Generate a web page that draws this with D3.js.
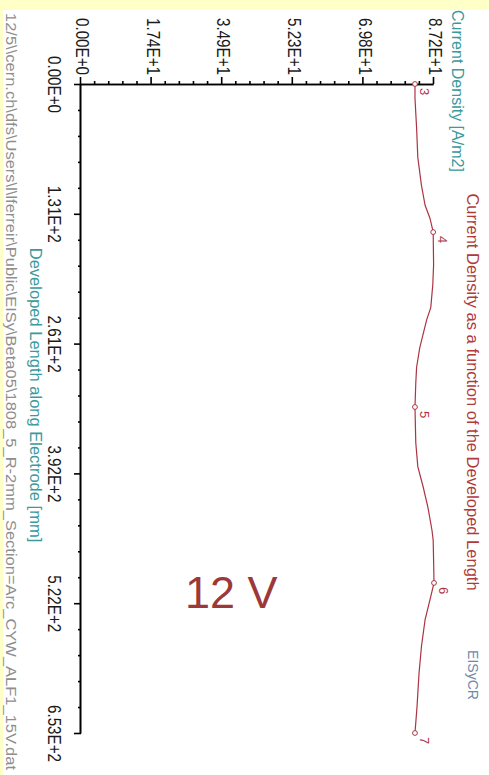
<!DOCTYPE html>
<html>
<head>
<meta charset="utf-8">
<script src="https://cdn.jsdelivr.net/npm/d3@7"></script>
<style>
  html, body { margin: 0; padding: 0; background: #ffffff; }
  svg { display: block; }
</style>
</head>
<body>
<svg id="chart" width="489" height="775"></svg>
<script>
// chart data (length in mm, density in A/m2)
var lengths   = [0, 14, 44, 74, 102, 122, 135, 149, 182, 202, 225, 237, 265, 285, 301, 325,
                 361, 385, 405, 426, 449, 459, 479, 502, 519, 539, 566, 593, 627, 653];
var densities = [82.5, 82.5, 82.9, 83.2, 84.1, 85.0, 86.2, 87.0, 87.1, 86.9, 86.4, 85.4, 83.7, 82.9, 82.7, 82.5,
                 82.7, 83.2, 84.5, 85.7, 86.7, 87.0, 87.1, 87.2, 86.2, 85.0, 84.1, 83.5, 83.0, 82.5];

// electrode nodes, index into the series above
var nodeIds = ["3", "4", "5", "6", "7"];
var nodeAt  = [0, 7, 15, 23, 29];

// axis ticks
var lengthTicks  = [0, 130.6, 261.2, 391.8, 522.4, 653];
var lengthLabels = ["0.00E+0", "1.31E+2", "2.61E+2", "3.92E+2", "5.22E+2", "6.53E+2"];
var densTicks    = [0, 17.44, 34.88, 52.32, 69.76, 87.2];
var densLabels   = ["0.00E+0", "1.74E+1", "3.49E+1", "5.23E+1", "6.98E+1", "8.72E+1"];

var title      = "Current Density as a function of the Developed Length";
var yTitle     = "Current Density [A/m2]";
var xTitle     = "Developed Length along Electrode [mm]";
var footer     = "12/5\\\\cern.ch\\dfs\\Users\\l\\lferreir\\Public\\EISy\\Beta05\\1808_5_R-2mm_Section=Arc_CYW_ALF1_15V.dat";
var voltage    = "12 V";

var red  = "#ab3444";
var teal = "#3a9a9c";
var font = "'Liberation Sans', Arial, sans-serif";

var svg = d3.select("#chart");

// yellowish frame of the original screenshot
svg.append("rect").attr("x", 0).attr("y", 0).attr("width", 489).attr("height", 10).attr("fill", "#ffffc8");
svg.append("rect").attr("x", 0).attr("y", 0).attr("width", 3).attr("height", 775).attr("fill", "#ffffc8");

// the plot is drawn in its own frame and turned a quarter clockwise
var w = 649, h = 353;
var g = svg.append("g").attr("transform", "translate(434,84) rotate(90)");

var x = d3.scaleLinear().domain([0, 653]).range([0, w]);
var y = d3.scaleLinear().domain([0, 87.2]).range([h, 0]);

function minor(ticks) {
	var out = [];
	for (var i = 0; i < ticks.length - 1; i++) {
		var step = (ticks[i + 1] - ticks[i]) / 5;
		for (var k = 1; k < 5; k++) out.push(ticks[i] + k * step);
	}
	return out;
}

// minor ticks
g.append("g").attr("transform", "translate(0," + h + ")")
	.call(d3.axisBottom(x).tickValues(minor(lengthTicks)).tickSize(3).tickSizeOuter(0).tickFormat(""));
g.append("g")
	.call(d3.axisLeft(y).tickValues(minor(densTicks)).tickSize(3).tickSizeOuter(0).tickFormat(""));

// major ticks with labels
var xAxis = g.append("g").attr("transform", "translate(0," + h + ")")
	.call(d3.axisBottom(x).tickValues(lengthTicks).tickSize(7).tickSizeOuter(0).tickPadding(14)
		.tickFormat(function(d, i) { return lengthLabels[i]; }));
var yAxis = g.append("g")
	.call(d3.axisLeft(y).tickValues(densTicks).tickSize(7).tickSizeOuter(0).tickPadding(2)
		.tickFormat(function(d, i) { return densLabels[i]; }));

g.selectAll(".domain, .tick line").attr("stroke", "#000").attr("stroke-width", 1.6);
g.selectAll(".tick text")
	.attr("fill", "#1a1a1a")
	.style("font-family", font)
	.style("font-size", "17.5px")
	.attr("textLength", 57)
	.attr("lengthAdjust", "spacingAndGlyphs");
yAxis.selectAll(".tick text").attr("dy", "0.25em");

// the curve
var line = d3.line()
	.x(function(d, i) { return x(lengths[i]); })
	.y(function(d, i) { return y(densities[i]); });

g.append("path")
	.datum(densities)
	.attr("d", line)
	.attr("fill", "none")
	.attr("stroke", red)
	.attr("stroke-width", 1.2);

var nodes = g.selectAll(".node").data(nodeIds).enter().append("g").attr("class", "node");
nodes.append("circle")
	.attr("cx", function(d, i) { return x(lengths[nodeAt[i]]); })
	.attr("cy", function(d, i) { return y(densities[nodeAt[i]]); })
	.attr("r", 2.4)
	.attr("fill", "#fff")
	.attr("stroke", red)
	.attr("stroke-width", 1);
nodes.append("text")
	.attr("x", function(d, i) { return x(lengths[nodeAt[i]]) + 4; })
	.attr("y", function(d, i) { return y(densities[nodeAt[i]]) - 5; })
	.attr("fill", red)
	.style("font-family", font)
	.style("font-size", "13px")
	.text(function(d) { return d; });

// titles
g.append("text")
	.attr("x", -74).attr("y", -18)
	.attr("fill", teal)
	.style("font-family", font).style("font-size", "16px")
	.text(yTitle);

g.append("text")
	.attr("x", 308).attr("y", -33)
	.attr("text-anchor", "middle")
	.attr("fill", "#b03a3a")
	.style("font-family", font).style("font-size", "16.5px")
	.text(title);

g.append("text")
	.attr("x", 311).attr("y", 404)
	.attr("text-anchor", "middle")
	.attr("fill", teal)
	.style("font-family", font).style("font-size", "16.5px")
	.text(xTitle);

g.append("text")
	.attr("x", -71).attr("y", 428)
	.attr("fill", "#8e8e8e")
	.style("font-family", font).style("font-size", "15px")
	.attr("textLength", 757)
	.attr("lengthAdjust", "spacingAndGlyphs")
	.text(footer);

// EISyCR logo
g.append("text")
	.attr("x", 566).attr("y", -34)
	.attr("fill", "#6f88aa")
	.style("font-family", font).style("font-size", "14px")
	.attr("textLength", 50)
	.attr("lengthAdjust", "spacingAndGlyphs")
	.text("EISyCR");

// voltage label, not rotated
svg.append("text")
	.attr("x", 185).attr("y", 608)
	.attr("fill", "#9c3838")
	.style("font-family", font).style("font-size", "45px")
	.text(voltage);
</script>
</body>
</html>
